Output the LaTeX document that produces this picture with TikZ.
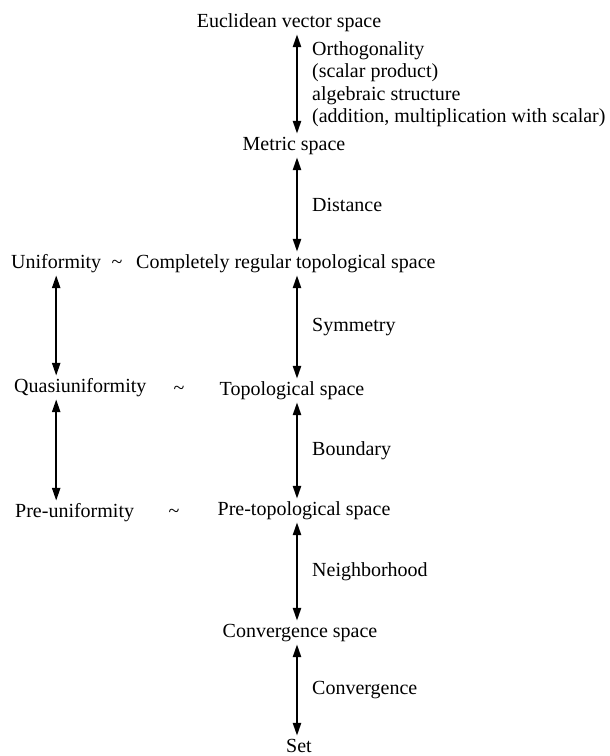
\documentclass[tikz,border=0pt]{standalone}
\usepackage{fontspec}
\setmainfont{Liberation Serif}
\usetikzlibrary{arrows.meta,positioning}

\begin{document}
\begin{tikzpicture}[x=1pt,y=-1pt,
  font=\fontsize{20}{22.5}\selectfont,
  term/.style={inner xsep=0pt,inner ysep=2pt,text height=14pt,text depth=5pt},
  lbl/.style={right=14pt,align=left,inner sep=0pt},
  dbl/.style={<->,line width=2.4pt},
  >={Triangle[length=13pt,width=8pt]}]
\useasboundingbox (0,0) rectangle (610,756);
\coordinate (axis) at (297,0);
% right column
\node[term,anchor=base] (evs)  at (289,27)  {Euclidean vector space};
\node[term,anchor=base] (ms)   at (294,150) {Metric space};
\node[term,anchor=base west] (crts) at (136,268) {Completely regular topological space};
\node[term,anchor=base] (tp)   at (292,395) {Topological space};
\node[term,anchor=base] (ptp)  at (304,515) {Pre-topological space};
\node[term,anchor=base] (cs)   at (300,637) {Convergence space};
\node[term,anchor=base] (set)  at (299,752) {Set};
% left column
\node[term,anchor=base west] (uni)    at (11,268) {Uniformity};
\node[term,anchor=base west] (quasi)  at (14,392) {Quasiuniformity};
\node[term,anchor=base west] (preuni) at (15,517) {Pre-uniformity};
\node[term,anchor=base] (sim1) at (117,268) {\textasciitilde};
\node[term,anchor=base] (sim2) at (179,394) {\textasciitilde};
\node[term,anchor=base] (sim3) at (174,517) {\textasciitilde};
% arrows
\draw[dbl] (evs.south -| axis) -- node[lbl] (ortho) {Orthogonality\\(scalar product)\\algebraic structure\\(addition, multiplication with scalar)} (ms.north -| axis);
\draw[dbl] (ms.south -| axis) -- node[lbl] (dist) {Distance} (crts.north -| axis);
\draw[dbl] (crts.south -| axis) -- node[lbl] (symm) {Symmetry} (tp.north -| axis);
\draw[dbl] (tp.south -| axis) -- node[lbl] (bound) {Boundary} (ptp.north -| axis);
\draw[dbl] (ptp.south -| axis) -- node[lbl] (neigh) {Neighborhood} (cs.north -| axis);
\draw[dbl] (cs.south -| axis) -- node[lbl] (conv) {Convergence} (set.north -| axis);
\draw[dbl] (uni.south) -- (quasi.north -| uni.south);
\draw[dbl] (quasi.south -| uni.south) -- (preuni.north -| uni.south);
\end{tikzpicture}
\end{document}
